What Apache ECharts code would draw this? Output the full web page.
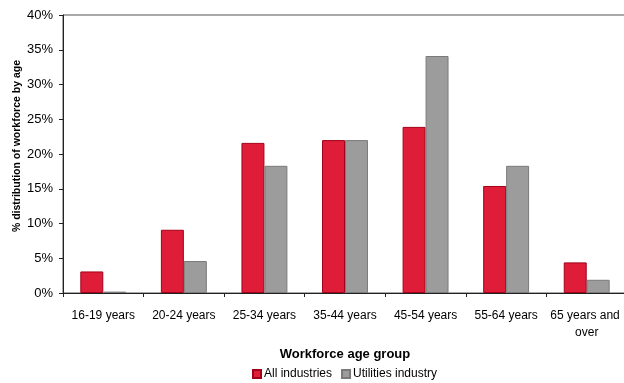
<!DOCTYPE html>
<html>
<head>
<meta charset="utf-8">
<script src="https://cdn.jsdelivr.net/npm/echarts@6/dist/echarts.min.js"></script>
<style>
  html, body { margin: 0; padding: 0; background: #fff; }
  #chart { width: 624px; height: 383px; }
</style>
</head>
<body>
<div id="chart"></div>
<script>
// age groups on the x axis
const ageGroups = ['16-19 years', '20-24 years', '25-34 years', '35-44 years', '45-54 years', '55-64 years', '65 years and over'];

// % of workforce in each age group
const allIndustries = [3.1, 9.1, 21.6, 22.0, 23.9, 15.4, 4.4];
const utilitiesIndustry = [0.2, 4.6, 18.3, 22.0, 34.1, 18.3, 1.9];

const yTicks = { min: 0, max: 40, step: 5 };

const font = '"Liberation Sans", Arial, sans-serif';

const chart = echarts.init(document.getElementById('chart'));

chart.setOption({
  animation: false,
  textStyle: { fontFamily: font },
  grid: {
    // the source picture is cropped on the right, so the frame runs past the edge
    left: 63,
    width: 564,
    top: 15,
    bottom: 90,
    outerBoundsMode: 'none',
    show: true,
    borderColor: '#555',
    borderWidth: 1
  },
  legend: {
    top: 363,
    left: 247,
    icon: 'rect',
    itemWidth: 8,
    itemHeight: 8,
    itemGap: 9,
    textStyle: { fontFamily: font, fontSize: 12, color: '#000', padding: [0, 0, 0, -2] },
    data: ['All industries', 'Utilities industry']
  },
  xAxis: {
    type: 'category',
    data: ageGroups,
    name: 'Workforce age group',
    nameLocation: 'middle',
    nameGap: 55,
    nameTextStyle: { fontFamily: font, fontSize: 13, fontWeight: 'bold', color: '#000' },
    axisLine: { lineStyle: { color: '#222', width: 1 } },
    axisTick: { show: true, length: 4, lineStyle: { color: '#222' } },
    axisLabel: {
      color: '#000',
      fontSize: 12,
      margin: 14,
      lineHeight: 17,
      width: 80,
      overflow: 'break',
      interval: 0
    }
  },
  yAxis: {
    type: 'value',
    min: yTicks.min,
    max: yTicks.max,
    interval: yTicks.step,
    name: '% distribution of workforce by age',
    nameLocation: 'middle',
    nameGap: 40,
    nameMoveOverlap: false,
    nameTextStyle: {
      fontFamily: font,
      fontSize: 10.5,
      fontWeight: 'bold',
      color: '#000',
      padding: [0, 0, 0, 16]
    },
    axisLine: { show: true, lineStyle: { color: '#222', width: 1 } },
    axisTick: { show: true, length: 4, lineStyle: { color: '#222' } },
    splitLine: { show: false },
    axisLabel: {
      color: '#000',
      fontSize: 13,
      margin: 10,
      formatter: '{value}%'
    }
  },
  series: [
    {
      name: 'All industries',
      type: 'bar',
      data: allIndustries,
      barGap: '0%',
      barCategoryGap: '43%',
      itemStyle: { color: '#DF1D39', borderColor: '#A30018', borderWidth: 1 }
    },
    {
      name: 'Utilities industry',
      type: 'bar',
      data: utilitiesIndustry,
      barGap: '0%',
      barCategoryGap: '43%',
      itemStyle: { color: '#9C9C9C', borderColor: '#7A7A7A', borderWidth: 1 }
    }
  ]
});
</script>
</body>
</html>
